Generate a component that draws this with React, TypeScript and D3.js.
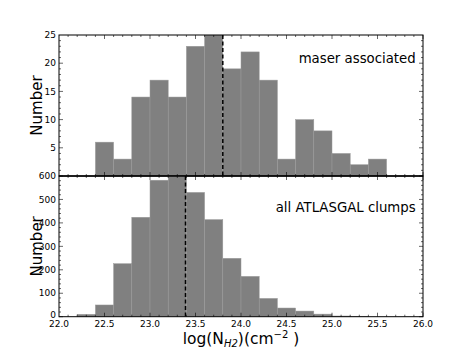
import React from "react";
import * as d3 from "d3";

const binWidth = 0.2;
const maserBinsFrom = 22.4;
const maserCounts = [6, 3, 14, 17, 14, 23, 25, 19, 22, 17, 3, 10, 8, 4, 2, 3];
const allBinsFrom = 22.2;
const allCounts = [10, 50, 226, 424, 582, 610, 530, 414, 249, 172, 78, 37, 24, 11, 3, 2];
const maserMedian = 23.8;
const allMedian = 23.39;
const xTicks = [22.0, 22.5, 23.0, 23.5, 24.0, 24.5, 25.0, 25.5, 26.0];
const topYTicks = [5, 10, 15, 20, 25];
const bottomYTicks = [0, 100, 200, 300, 400, 500, 600];

const W = 471, H = 353;
const left = 59, right = 423;
const top1 = 35, mid = 176, bot = 316.7;
const font = "DejaVu Sans, sans-serif";

export default function App() {
  const x = d3.scaleLinear().domain([22, 26]).range([left, right]);
  const yTop = d3.scaleLinear().domain([0, 25]).range([mid, top1]);
  const yBot = d3.scaleLinear().domain([0, 600]).range([bot, mid]);
  const minorX = d3.range(221, 261).map((v) => v / 10);

  const panel = (
    counts: number[],
    from: number,
    y: d3.ScaleLinear<number, number>,
    y0: number,
    y1: number,
    majorY: number[],
    minorY: number[],
    median: number,
    label: string,
    labelY: number,
    key: string,
    showXLabels: boolean
  ) => (
    <g key={key}>
      <clipPath id={"clip" + key}>
        <rect x={left} y={y1} width={right - left} height={y0 - y1} />
      </clipPath>
      <g clipPath={`url(#clip${key})`}>
        {counts.map((c, i) => {
          const a = from + i * binWidth;
          return (
            <rect
              key={i}
              x={x(a)}
              y={y(c)}
              width={x(a + binWidth) - x(a)}
              height={y(0) - y(c)}
              fill="#808080"
              stroke="#9a9a9a"
              strokeWidth={0.5}
            />
          );
        })}
        <line x1={x(median)} x2={x(median)} y1={y1} y2={y0} stroke="#000" strokeWidth={1.5} strokeDasharray="4,2.5" />
      </g>
      {minorX.map((t, i) => {
        const major = Math.abs(t * 2 - Math.round(t * 2)) < 1e-6;
        const len = major ? 4 : 2;
        return (
          <g key={"xt" + i}>
            <line x1={x(t)} x2={x(t)} y1={y0} y2={y0 - len} stroke="#000" strokeWidth={0.6} />
            <line x1={x(t)} x2={x(t)} y1={y1} y2={y1 + len} stroke="#000" strokeWidth={0.6} />
          </g>
        );
      })}
      {minorY.map((t, i) => {
        const major = majorY.includes(t);
        const len = major ? 4 : 2;
        return (
          <g key={"yt" + i}>
            <line x1={left} x2={left + len} y1={y(t)} y2={y(t)} stroke="#000" strokeWidth={0.6} />
            <line x1={right} x2={right - len} y1={y(t)} y2={y(t)} stroke="#000" strokeWidth={0.6} />
          </g>
        );
      })}
      {majorY.map((t) => (
        <text
          key={"yl" + t}
          x={left - 3}
          y={y(t) - (t === 0 ? 2 : 0)}
          dy="0.35em"
          textAnchor="end"
          fontSize={9}
          fontFamily={font}
        >
          {t}
        </text>
      ))}
      {showXLabels &&
        xTicks.map((t) => (
          <text key={"xl" + t} x={x(t)} y={y0 + 10.5} textAnchor="middle" fontSize={9} fontFamily={font}>
            {t.toFixed(1)}
          </text>
        ))}
      <rect x={left} y={y1} width={right - left} height={y0 - y1} fill="none" stroke="#000" strokeWidth={1} />
      <text x={415.7} y={labelY} textAnchor="end" fontSize={13.3} fontFamily={font}>
        {label}
      </text>
      <text
        transform={`translate(${left - 17},${(y0 + y1) / 2}) rotate(-90)`}
        textAnchor="middle"
        fontSize={15}
        fontFamily={font}
      >
        Number
      </text>
    </g>
  );

  return (
    <svg width={W} height={H} style={{ position: "absolute", left: 0, top: 0, background: "#fff" }}>
      {panel(maserCounts, maserBinsFrom, yTop, mid, top1, topYTicks, d3.range(1, 25), maserMedian, "maser associated", 63, "a", false)}
      {panel(allCounts, allBinsFrom, yBot, bot, mid, bottomYTicks, d3.range(0, 601, 20), allMedian, "all ATLASGAL clumps", 211.7, "b", true)}
      <line x1={left} x2={right} y1={mid} y2={mid} stroke="#000" strokeWidth={1.2} />
      <text x={(left + right) / 2} y={344} textAnchor="middle" fontSize={15.5} fontFamily={font}>
        log(N
        <tspan fontSize={10} fontStyle="italic" dy={3}>H2</tspan>
        <tspan dy={-3}>)(cm</tspan>
        <tspan fontSize={10} dy={-6}>−2</tspan>
        <tspan dy={6}> )</tspan>
      </text>
    </svg>
  );
}
